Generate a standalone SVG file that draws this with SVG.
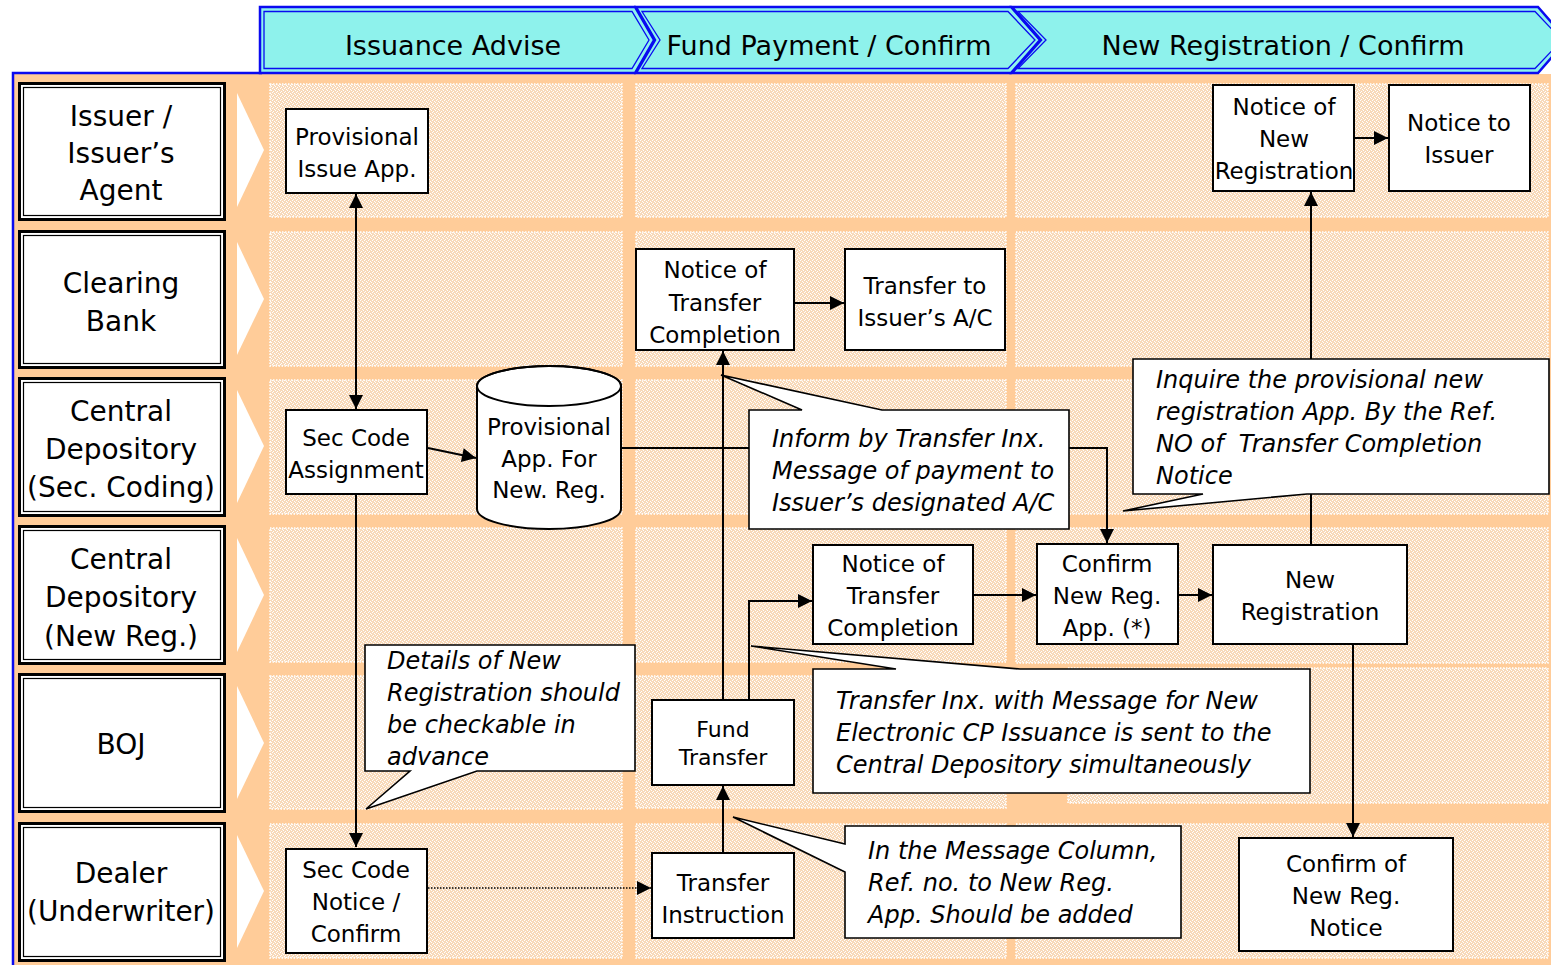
<svg xmlns="http://www.w3.org/2000/svg" width="1551" height="965" viewBox="0 0 1551 965">
  <defs>
    <pattern id="grain" width="4" height="4" patternUnits="userSpaceOnUse">
      <rect width="4" height="4" fill="#F8D9B9"/>
      <rect x="0" y="0" width="1" height="1" fill="#fff"/>
      <rect x="2" y="1" width="1" height="1" fill="#fff"/>
      <rect x="1" y="3" width="1" height="1" fill="#fff"/>
      <rect x="3" y="2" width="1" height="1" fill="#fff"/>
    </pattern>
    <marker id="ah" viewBox="0 0 10 10" refX="10" refY="5" markerWidth="15" markerHeight="14" markerUnits="userSpaceOnUse" orient="auto-start-reverse">
      <path d="M0,0 L10,5 L0,10 z" fill="#000"/>
    </marker>
    <style>
      text { font-family: "DejaVu Sans", "Liberation Sans", sans-serif; fill: #000; }
      .hd { font-size: 27px; text-anchor: middle; }
      .phase { fill: #8EF2EC; stroke: #0A0AF0; stroke-width: 2.5; stroke-linejoin: miter; }
      .phase-in { fill: none; stroke: #0A0AF0; stroke-width: 1.3; }
      .cell { fill: url(#grain); stroke: #fff; stroke-width: 1.5; stroke-dasharray: 1.5 1.5; }
      .tri { fill: #fff; }
      .lane-o { fill: #fff; stroke: #000; stroke-width: 3; }
      .lane-i { fill: none; stroke: #000; stroke-width: 1.2; }
      .lt { font-size: 28px; text-anchor: middle; }
      .box { fill: #fff; stroke: #000; stroke-width: 2; }
      .nt { font-size: 23px; text-anchor: middle; }
      .co { fill: #fff; stroke: #000; stroke-width: 1.6; stroke-linejoin: miter; }
      .ct { font-size: 24px; font-style: italic; white-space: pre; }
      .ln { fill: none; stroke: #000; stroke-width: 2; }
      .arr { marker-end: url(#ah); }
      .dots { fill: none; stroke: #000; stroke-width: 1.5; stroke-dasharray: 1.5 1.5; }
    </style>
  </defs>

  <!-- swimlane board -->
  <rect x="13" y="74" width="1538" height="891" fill="#FFCC99"/>
  <path d="M13,965 V73 H262" fill="none" stroke="#0A0AF0" stroke-width="2.5"/>

  <!-- phase banner -->
  <g id="phases">
    <polygon class="phase" points="260,7 635,7 654,40 635,73 260,73"/>
    <polygon class="phase-in" points="264,11.5 632,11.5 649,40 632,68.5 264,68.5"/>
    <polygon class="phase" points="636,7 1011,7 1040,40 1011,73 636,73 655,40"/>
    <polygon class="phase-in" points="642,11.5 1008,11.5 1035,40 1008,68.5 642,68.5 660,40"/>
    <polygon class="phase" points="1012,7 1538,7 1567,40 1538,73 1012,73 1041,40"/>
    <polygon class="phase-in" points="1018,11.5 1535,11.5 1562,40 1535,68.5 1018,68.5 1046,40"/>
    <text class="hd" x="453" y="55">Issuance Advise</text>
    <text class="hd" x="829" y="55">Fund Payment / Confirm</text>
    <text class="hd" x="1283" y="55">New Registration / Confirm</text>
  </g>

  <!-- lane cells -->
  <g id="cells">
    <rect class="cell" x="270" y="84" width="352" height="133"/>
    <rect class="cell" x="636" y="84" width="370" height="133"/>
    <rect class="cell" x="1016" y="84" width="532" height="133"/>
    <rect class="cell" x="270" y="232" width="352" height="134"/>
    <rect class="cell" x="636" y="232" width="370" height="134"/>
    <rect class="cell" x="1016" y="232" width="532" height="134"/>
    <rect class="cell" x="270" y="380" width="352" height="134"/>
    <rect class="cell" x="636" y="380" width="370" height="134"/>
    <rect class="cell" x="1016" y="380" width="532" height="134"/>
    <rect class="cell" x="270" y="528" width="352" height="134"/>
    <rect class="cell" x="636" y="528" width="370" height="134"/>
    <rect class="cell" x="1016" y="528" width="532" height="135"/>
    <rect class="cell" x="270" y="676" width="352" height="133"/>
    <rect class="cell" x="636" y="676" width="370" height="132"/>
    <rect class="cell" x="1068" y="668" width="480" height="135"/>
    <rect class="cell" x="270" y="824" width="352" height="134"/>
    <rect class="cell" x="636" y="824" width="370" height="134"/>
    <rect class="cell" x="1016" y="824" width="532" height="134"/>
  </g>

  <!-- lane direction pointers -->
  <g id="pointers">
    <polygon class="tri" points="237,93 264,150 237,207"/>
    <polygon class="tri" points="237,242 264,299 237,355"/>
    <polygon class="tri" points="237,390 264,446 237,503"/>
    <polygon class="tri" points="237,538 264,595 237,652"/>
    <polygon class="tri" points="237,686 264,743 237,799"/>
    <polygon class="tri" points="237,835 264,891 237,948"/>
  </g>

  <!-- lane headers -->
  <g id="lane-issuer">
    <rect class="lane-o" x="19.5" y="83.5" width="205" height="136"/>
    <rect class="lane-i" x="23.5" y="87.5" width="197" height="128"/>
    <text class="lt" x="121" y="126">Issuer /</text>
    <text class="lt" x="121" y="163">Issuer’s</text>
    <text class="lt" x="121" y="200">Agent</text>
  </g>
  <g id="lane-clearing">
    <rect class="lane-o" x="19.5" y="231.5" width="205" height="136"/>
    <rect class="lane-i" x="23.5" y="235.5" width="197" height="128"/>
    <text class="lt" x="121" y="293">Clearing</text>
    <text class="lt" x="121" y="331">Bank</text>
  </g>
  <g id="lane-cd-coding">
    <rect class="lane-o" x="19.5" y="378.5" width="205" height="137"/>
    <rect class="lane-i" x="23.5" y="382.5" width="197" height="129"/>
    <text class="lt" x="121" y="421">Central</text>
    <text class="lt" x="121" y="459">Depository</text>
    <text class="lt" x="121" y="497">(Sec. Coding)</text>
  </g>
  <g id="lane-cd-newreg">
    <rect class="lane-o" x="19.5" y="526.5" width="205" height="137"/>
    <rect class="lane-i" x="23.5" y="530.5" width="197" height="129"/>
    <text class="lt" x="121" y="569">Central</text>
    <text class="lt" x="121" y="607">Depository</text>
    <text class="lt" x="121" y="646">(New Reg.)</text>
  </g>
  <g id="lane-boj">
    <rect class="lane-o" x="19.5" y="674.5" width="205" height="137"/>
    <rect class="lane-i" x="23.5" y="678.5" width="197" height="129"/>
    <text class="lt" x="121" y="754">BOJ</text>
  </g>
  <g id="lane-dealer">
    <rect class="lane-o" x="19.5" y="823.5" width="205" height="137"/>
    <rect class="lane-i" x="23.5" y="827.5" width="197" height="129"/>
    <text class="lt" x="121" y="883">Dealer</text>
    <text class="lt" x="121" y="921" textLength="188" lengthAdjust="spacingAndGlyphs">(Underwriter)</text>
  </g>

  <!-- connectors -->
  <g id="connectors">
    <line class="ln" x1="356" y1="194" x2="356" y2="409" marker-start="url(#ah)" marker-end="url(#ah)"/>
    <line class="ln arr" x1="356" y1="494" x2="356" y2="847"/>
    <line class="ln arr" x1="428" y1="448" x2="476" y2="458"/>
    <polyline class="ln arr" points="621,448 1107,448 1107,543"/>
    <line class="ln arr" x1="795" y1="303" x2="844" y2="303"/>
    <line class="ln arr" x1="723" y1="700" x2="723" y2="351"/>
    <polyline class="ln arr" points="749,700 749,601 812,601"/>
    <line class="ln arr" x1="723" y1="853" x2="723" y2="786"/>
    <line class="dots arr" x1="428" y1="888" x2="651" y2="888"/>
    <line class="ln arr" x1="973" y1="595" x2="1036" y2="595"/>
    <line class="ln arr" x1="1178" y1="595" x2="1212" y2="595"/>
    <line class="ln arr" x1="1311" y1="545" x2="1311" y2="192"/>
    <line class="ln arr" x1="1355" y1="138" x2="1388" y2="138"/>
    <line class="ln arr" x1="1353" y1="645" x2="1353" y2="837"/>
  </g>

  <!-- process nodes -->
  <g id="provisional-issue-app">
    <rect class="box" x="286" y="109" width="142" height="84"/>
    <text class="nt" x="357" y="145">Provisional</text>
    <text class="nt" x="357" y="177">Issue App.</text>
  </g>
  <g id="sec-code-assignment">
    <rect class="box" x="286" y="410" width="141" height="84"/>
    <text class="nt" x="356" y="446">Sec Code</text>
    <text class="nt" x="356" y="478">Assignment</text>
  </g>
  <g id="provisional-app-db">
    <path class="box" d="M477,386 V509 A72,20 0 0 0 621,509 V386 A72,20 0 0 0 477,386 Z"/>
    <ellipse cx="549" cy="386" rx="72" ry="20" fill="none" stroke="#000" stroke-width="2"/>
    <text class="nt" x="549" y="435">Provisional</text>
    <text class="nt" x="549" y="467">App. For</text>
    <text class="nt" x="549" y="498">New. Reg.</text>
  </g>
  <g id="notice-transfer-completion-bank">
    <rect class="box" x="636" y="249" width="158" height="101"/>
    <text class="nt" x="715" y="278">Notice of</text>
    <text class="nt" x="715" y="311">Transfer</text>
    <text class="nt" x="715" y="343">Completion</text>
  </g>
  <g id="transfer-to-issuer">
    <rect class="box" x="845" y="249" width="160" height="101"/>
    <text class="nt" x="925" y="294">Transfer to</text>
    <text class="nt" x="925" y="326">Issuer’s A/C</text>
  </g>
  <g id="notice-new-registration">
    <rect class="box" x="1213" y="85" width="141" height="106"/>
    <text class="nt" x="1284" y="115">Notice of</text>
    <text class="nt" x="1284" y="147">New</text>
    <text class="nt" x="1284" y="179">Registration</text>
  </g>
  <g id="notice-to-issuer">
    <rect class="box" x="1389" y="85" width="141" height="106"/>
    <text class="nt" x="1459" y="131">Notice to</text>
    <text class="nt" x="1459" y="163">Issuer</text>
  </g>
  <g id="notice-transfer-completion-cd">
    <rect class="box" x="813" y="545" width="160" height="99"/>
    <text class="nt" x="893" y="572">Notice of</text>
    <text class="nt" x="893" y="604">Transfer</text>
    <text class="nt" x="893" y="636">Completion</text>
  </g>
  <g id="confirm-new-reg-app">
    <rect class="box" x="1037" y="544" width="141" height="100"/>
    <text class="nt" x="1107" y="572">Confirm</text>
    <text class="nt" x="1107" y="604">New Reg.</text>
    <text class="nt" x="1107" y="636">App. (*)</text>
  </g>
  <g id="new-registration">
    <rect class="box" x="1213" y="545" width="194" height="99"/>
    <text class="nt" x="1310" y="588">New</text>
    <text class="nt" x="1310" y="620">Registration</text>
  </g>
  <g id="fund-transfer">
    <rect class="box" x="652" y="700" width="142" height="85"/>
    <text class="nt" x="723" y="737" style="font-size:22px">Fund</text>
    <text class="nt" x="723" y="765" style="font-size:22px">Transfer</text>
  </g>
  <g id="transfer-instruction">
    <rect class="box" x="652" y="853" width="142" height="85"/>
    <text class="nt" x="723" y="891">Transfer</text>
    <text class="nt" x="723" y="923">Instruction</text>
  </g>
  <g id="sec-code-notice">
    <rect class="box" x="286" y="849" width="141" height="104"/>
    <text class="nt" x="356" y="878">Sec Code</text>
    <text class="nt" x="356" y="910">Notice /</text>
    <text class="nt" x="356" y="942">Confirm</text>
  </g>
  <g id="confirm-new-reg-notice">
    <rect class="box" x="1239" y="838" width="214" height="113"/>
    <text class="nt" x="1346" y="872">Confirm of</text>
    <text class="nt" x="1346" y="904">New Reg.</text>
    <text class="nt" x="1346" y="936">Notice</text>
  </g>

  <!-- annotations -->
  <g id="note-inform">
    <path class="co" d="M749,410 L802,410 L721,375 L882,410 L1069,410 L1069,529 L749,529 Z"/>
    <text class="ct" x="772" y="447">Inform by Transfer Inx.</text>
    <text class="ct" x="772" y="479">Message of payment to</text>
    <text class="ct" x="772" y="511">Issuer’s designated A/C</text>
  </g>
  <g id="note-inquire">
    <path class="co" d="M1133,359 L1549,359 L1549,494 L1307,494 L1123,511 L1203,494 L1133,494 Z"/>
    <text class="ct" x="1156" y="388">Inquire the provisional new</text>
    <text class="ct" x="1156" y="420">registration App. By the Ref.</text>
    <text class="ct" x="1156" y="452">NO of  Transfer Completion</text>
    <text class="ct" x="1156" y="484">Notice</text>
  </g>
  <g id="note-details">
    <path class="co" d="M365,645 L635,645 L635,771 L477,771 L366,809 L410,771 L365,771 Z"/>
    <text class="ct" x="387" y="669">Details of New</text>
    <text class="ct" x="387" y="701">Registration should</text>
    <text class="ct" x="387" y="733">be checkable in</text>
    <text class="ct" x="387" y="765">advance</text>
  </g>
  <g id="note-transfer-inx">
    <path class="co" d="M813,669 L896,669 L751,646 L1020,669 L1310,669 L1310,793 L813,793 Z"/>
    <text class="ct" x="836" y="709">Transfer Inx. with Message for New</text>
    <text class="ct" x="836" y="741">Electronic CP Issuance is sent to the</text>
    <text class="ct" x="836" y="773">Central Depository simultaneously</text>
  </g>
  <g id="note-message-column">
    <path class="co" d="M845,826 L1181,826 L1181,938 L845,938 L845,872 L733,817 L845,844 Z"/>
    <text class="ct" x="868" y="859">In the Message Column,</text>
    <text class="ct" x="868" y="891">Ref. no. to New Reg.</text>
    <text class="ct" x="868" y="923">App. Should be added</text>
  </g>
</svg>
